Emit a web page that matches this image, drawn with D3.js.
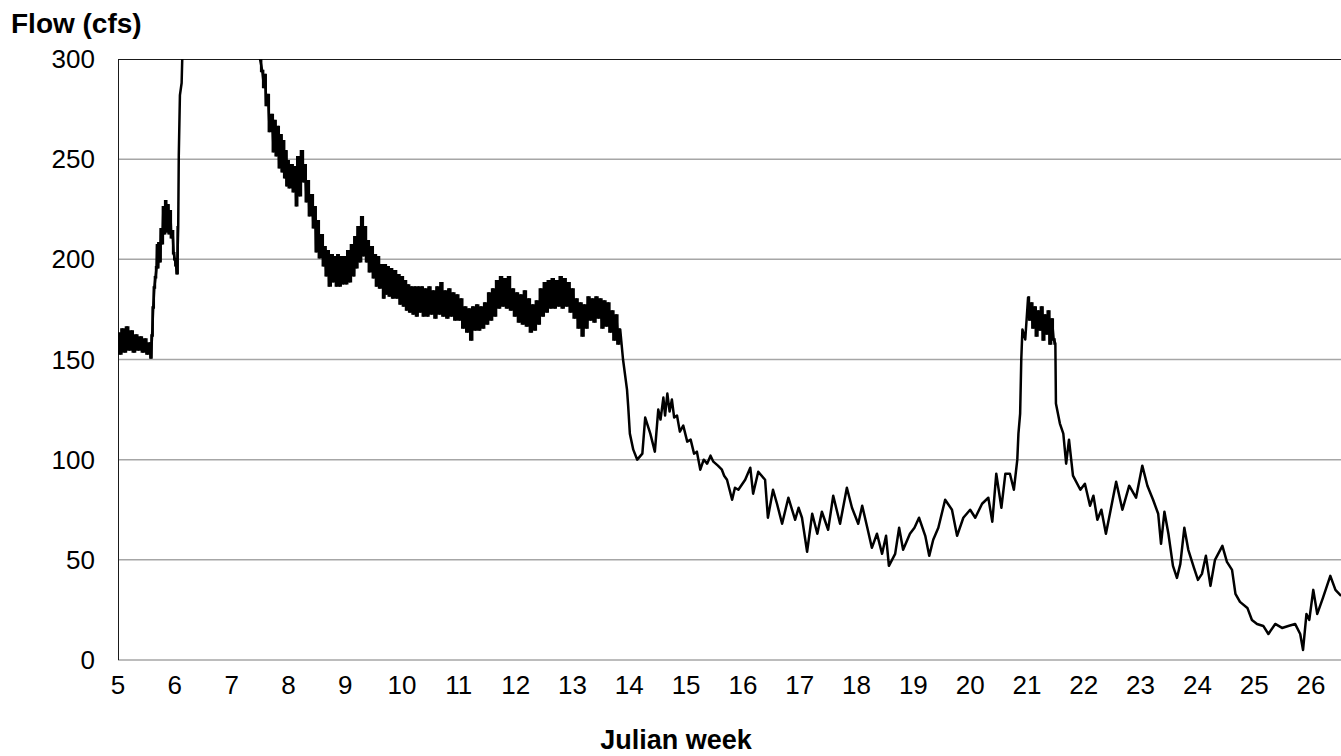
<!DOCTYPE html>
<html>
<head>
<meta charset="utf-8">
<title>Flow (cfs) by Julian week</title>
<script src="https://d3js.org/d3.v7.min.js"></script>
<style>
  body { margin: 0; background: #fff; }
  text { font-family: "Liberation Sans", Arial, sans-serif; fill: #000; }
</style>
</head>
<body>
<div id="chart"></div>
<script>

// [julian week, flow cfs]
var risingLimb = [
  [5.00,163],[5.04,153],[5.08,165],[5.12,154],[5.16,166],[5.20,155],[5.24,164],[5.28,154],
  [5.32,162],[5.36,155],[5.40,161],[5.44,154],[5.48,160],[5.52,153],[5.56,158],[5.58,151],
  [5.60,162],[5.62,176],[5.64,186],[5.66,191],[5.68,196],[5.69,207],[5.70,196],[5.72,208],
  [5.74,199],[5.76,215],[5.78,208],[5.80,226],[5.82,213],[5.84,229],[5.86,214],[5.88,227],
  [5.90,213],[5.92,224],[5.94,211],[5.96,214],[5.98,203],[6.00,200],[6.02,197],[6.04,193],
  [6.06,216],[6.07,252],[6.09,282],[6.12,288],[6.14,310],[6.20,365],[6.40,420],[6.70,405],
  [7.00,370],[7.30,330],[7.45,308]
];

var recession = [
  [7.50,300],[7.54,294],[7.57,286],[7.59,292],[7.61,277],[7.64,282],[7.67,264],[7.71,272],
  [7.74,254],[7.76,269],[7.79,252],[7.82,266],[7.84,246],[7.87,262],[7.89,244],[7.91,259],
  [7.94,241],[7.96,254],[7.97,237],[7.99,249],[8.02,236],[8.06,247],[8.09,234],[8.12,246],
  [8.14,227],[8.17,251],[8.20,232],[8.24,254],[8.27,239],[8.29,247],[8.32,229],[8.35,239],
  [8.37,222],[8.42,232],[8.44,216],[8.47,226],[8.49,204],[8.52,219],[8.55,201],[8.59,212],
  [8.62,197],[8.64,206],[8.67,192],[8.70,204],[8.72,187],[8.77,202],[8.79,189],[8.82,201],
  [8.85,187],[8.87,202],[8.90,187],[8.94,201],[8.97,188],[9.00,201],[9.02,188],[9.05,204],
  [9.08,189],[9.12,207],[9.15,192],[9.17,211],[9.20,196],[9.23,216],[9.26,199],[9.30,221],
  [9.32,202],[9.35,216],[9.38,199],[9.40,209],[9.43,194],[9.47,206],[9.50,191],[9.53,202],
  [9.55,187],[9.58,201],[9.61,186],[9.65,197],[9.68,181],[9.70,197],[9.73,183],[9.75,196],
  [9.78,182],[9.81,195],[9.84,181],[9.88,194],[9.91,181],[9.94,192],[9.97,178],[10.00,191],
  [10.03,177],[10.06,189],[10.08,175],[10.11,187],[10.14,174],[10.17,186],[10.20,173],[10.23,186],
  [10.26,172],[10.29,186],[10.32,174],[10.35,186],[10.38,172],[10.41,185],[10.45,172],[10.48,186],
  [10.52,173],[10.55,184],[10.59,171],[10.62,186],[10.66,173],[10.69,188],[10.73,172],[10.76,184],
  [10.80,171],[10.83,185],[10.87,172],[10.90,183],[10.94,170],[10.97,182],[11.01,170],[11.04,180],
  [11.08,166],[11.11,176],[11.15,164],[11.18,175],[11.22,160],[11.25,176],[11.29,165],[11.32,177],
  [11.36,165],[11.39,176],[11.43,166],[11.46,178],[11.50,168],[11.53,183],[11.57,170],[11.60,185],
  [11.64,172],[11.67,189],[11.71,176],[11.74,191],[11.78,177],[11.81,190],[11.85,176],[11.88,191],
  [11.92,175],[11.95,185],[11.99,172],[12.02,183],[12.06,169],[12.09,182],[12.13,168],[12.16,184],
  [12.20,167],[12.23,180],[12.27,164],[12.30,177],[12.34,165],[12.37,179],[12.41,168],[12.44,185],
  [12.48,172],[12.51,188],[12.55,174],[12.58,189],[12.62,176],[12.65,190],[12.69,176],[12.72,189],
  [12.76,177],[12.79,191],[12.83,176],[12.86,190],[12.90,177],[12.93,188],[12.97,174],[13.00,185],
  [13.04,171],[13.07,180],[13.11,166],[13.14,178],[13.18,162],[13.21,177],[13.25,166],[13.28,181],
  [13.32,170],[13.35,180],[13.39,169],[13.42,181],[13.46,171],[13.49,180],[13.53,166],[13.56,179],
  [13.60,167],[13.63,178],[13.67,164],[13.70,174],[13.74,160],[13.77,172],[13.81,158],[13.84,165]
];

var lowFlow = [
  [13.89,150],[13.96,135],[13.98,127],[14.01,113],[14.07,105],[14.14,100],[14.23,103],[14.28,121],
  [14.37,113],[14.45,104],[14.51,125],[14.55,120],[14.60,131],[14.63,122],[14.67,133],[14.71,124],
  [14.75,130],[14.79,121],[14.84,122],[14.89,114],[14.95,117],[15.02,109],[15.08,110],[15.14,103],
  [15.19,104],[15.25,95],[15.31,100],[15.37,98],[15.43,102],[15.48,99],[15.56,97],[15.63,95],
  [15.67,92],[15.72,90],[15.81,80],[15.86,86],[15.92,85],[16.04,90],[16.13,96],[16.18,83],
  [16.27,94],[16.39,90],[16.44,71],[16.53,85],[16.60,78],[16.69,68],[16.80,81],[16.92,70],
  [16.98,76],[17.04,71],[17.13,54],[17.22,73],[17.31,63],[17.39,74],[17.50,65],[17.59,82],
  [17.71,68],[17.83,86],[17.92,76],[18.03,68],[18.10,77],[18.19,66],[18.27,56],[18.36,63],
  [18.45,53],[18.52,62],[18.57,47],[18.68,53],[18.75,66],[18.82,55],[18.94,63],[19.02,66],
  [19.10,71],[19.21,62],[19.28,52],[19.35,60],[19.44,66],[19.56,80],[19.68,75],[19.77,62],
  [19.88,71],[20.00,75],[20.09,71],[20.21,78],[20.32,81],[20.39,69],[20.46,93],[20.55,76],
  [20.62,93],[20.70,93],[20.77,85],[20.83,100],[20.85,113],[20.88,123],[20.90,150],[20.92,165],
  [20.97,160]
];

var summerPeak = [
  [21.02,181],[21.05,170],[21.08,178],[21.11,166],[21.14,176],[21.17,162],[21.20,174],[21.23,165],
  [21.26,176],[21.29,160],[21.32,172],[21.35,163],[21.38,174],[21.41,158],[21.44,170],[21.47,160],
  [21.50,158]
];

var lateRecession = [
  [21.51,128],[21.58,118],[21.64,113],[21.69,98],[21.74,110],[21.81,92],[21.94,85],[22.02,88],
  [22.11,77],[22.17,82],[22.24,70],[22.31,75],[22.39,63],[22.46,73],[22.57,89],[22.68,75],
  [22.80,87],[22.92,81],[23.03,97],[23.12,87],[23.22,80],[23.31,73],[23.36,58],[23.42,74],
  [23.49,63],[23.57,47],[23.64,41],[23.70,48],[23.77,66],[23.84,55],[23.94,46],[24.01,40],
  [24.08,43],[24.15,52],[24.23,37],[24.31,50],[24.44,57],[24.52,49],[24.61,45],[24.67,33],
  [24.75,29],[24.88,26],[24.96,20],[25.05,18],[25.16,17],[25.25,13],[25.37,18],[25.49,16],
  [25.60,17],[25.72,18],[25.81,13],[25.86,5],[25.92,23],[25.97,20],[26.04,35],[26.11,23],
  [26.21,31],[26.34,42],[26.43,35],[26.53,32]
];

var weekTicks = [5,6,7,8,9,10,11,12,13,14,15,16,17,18,19,20,21,22,23,24,25,26];
var flowTicks = [0,50,100,150,200,250,300];

var data = risingLimb.concat(recession, lowFlow, summerPeak, lateRecession);
// stretches where the hourly record is so noisy it plots as a solid band
var noisyParts = [risingLimb.slice(0, 41), recession, summerPeak];

var margin = {top: 59, right: 0, bottom: 96, left: 118},
    width = 1341 - margin.left - margin.right,
    height = 756 - margin.top - margin.bottom;

var svg = d3.select("#chart")
  .append("svg")
    .attr("width", width + margin.left + margin.right)
    .attr("height", height + margin.top + margin.bottom);

var g = svg.append("g")
    .attr("transform", "translate(" + margin.left + "," + margin.top + ")");

var x = d3.scaleLinear().domain([5, 26.528]).range([0, width]);
var y = d3.scaleLinear().domain([0, 300]).range([height, 0]);

// gridlines
g.selectAll(".grid")
  .data(flowTicks.slice(0, -1))
  .enter().append("line")
    .attr("class", "grid")
    .attr("x1", 0).attr("x2", width)
    .attr("y1", function(d) { return y(d); })
    .attr("y2", function(d) { return y(d); })
    .style("stroke", "#a6a6a6")
    .style("stroke-width", 1.5);

// plot frame (top + left)
g.append("line").attr("x1", 0).attr("x2", width).attr("y1", 0.5).attr("y2", 0.5)
  .style("stroke", "#1a1a1a").style("stroke-width", 1);
g.append("line").attr("x1", 0.5).attr("x2", 0.5).attr("y1", 0).attr("y2", height)
  .style("stroke", "#1a1a1a").style("stroke-width", 1);

g.append("clipPath").attr("id", "plotClip")
  .append("rect").attr("x", 0).attr("y", 0).attr("width", width).attr("height", height);

var line = d3.line()
  .x(function(d) { return x(d[0]); })
  .y(function(d) { return y(d[1]); });

var stepLine = d3.line()
  .curve(d3.curveStep)
  .x(function(d) { return x(d[0]); })
  .y(function(d) { return y(d[1]); });

var plot = g.append("g").attr("clip-path", "url(#plotClip)");

plot.append("path")
  .datum(data)
  .attr("d", line)
  .style("fill", "none")
  .style("stroke", "#000")
  .style("stroke-width", 2.5)
  .style("stroke-linejoin", "round");

plot.selectAll(".band")
  .data(noisyParts)
  .enter().append("path")
    .attr("class", "band")
    .attr("d", stepLine)
    .style("fill", "none")
    .style("stroke", "#000")
    .style("stroke-width", 2.5);

// y labels
g.selectAll(".ylab")
  .data(flowTicks)
  .enter().append("text")
    .attr("class", "ylab")
    .attr("x", -23)
    .attr("y", function(d) { return y(d); })
    .attr("dy", "0.35em")
    .style("text-anchor", "end")
    .style("font-size", "26px")
    .text(function(d) { return d; });

// x labels
g.selectAll(".xlab")
  .data(weekTicks)
  .enter().append("text")
    .attr("class", "xlab")
    .attr("x", function(d) { return x(d); })
    .attr("y", height + 34)
    .style("text-anchor", "middle")
    .style("font-size", "26px")
    .text(function(d) { return d; });

svg.append("text")
  .attr("x", 11).attr("y", 33)
  .style("font-size", "28px").style("font-weight", "bold")
  .text("Flow (cfs)");

svg.append("text")
  .attr("x", 676).attr("y", 749)
  .style("text-anchor", "middle")
  .style("font-size", "27px").style("font-weight", "bold")
  .text("Julian week");

</script>
</body>
</html>
